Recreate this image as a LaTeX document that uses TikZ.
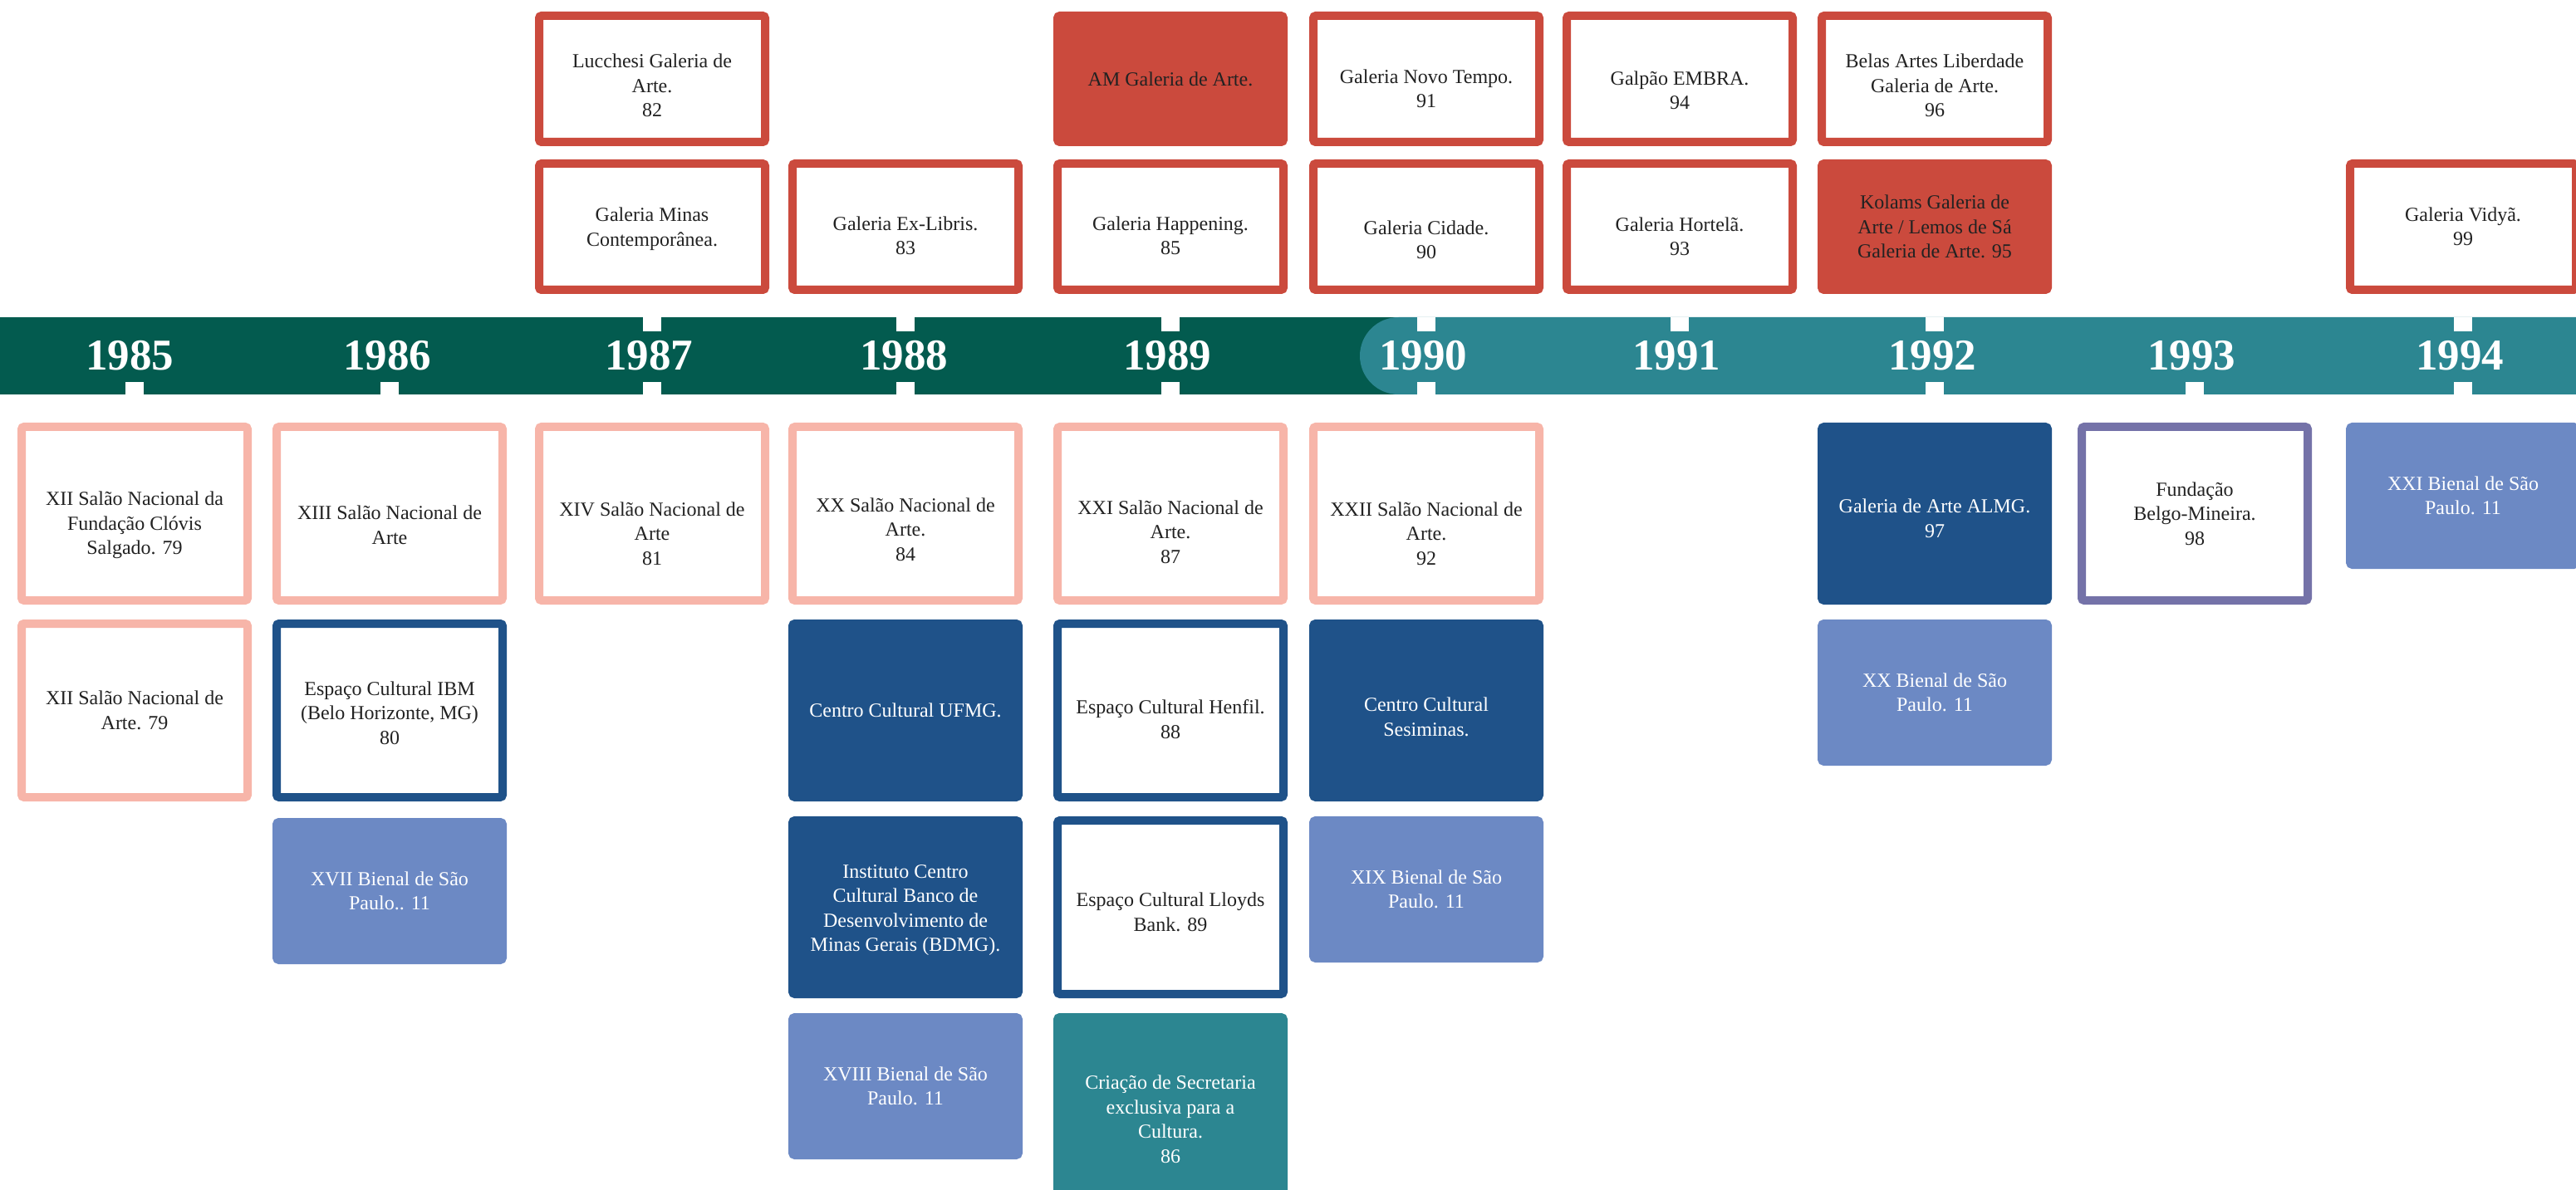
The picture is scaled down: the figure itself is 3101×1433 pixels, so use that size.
\documentclass[tikz,border=0pt]{standalone}
\usepackage{fontspec}
\setmainfont{Liberation Serif}
\usetikzlibrary{positioning}

\definecolor{bandgreen}{HTML}{035B4F}
\definecolor{bandteal}{HTML}{2C8691}
\definecolor{galred}{HTML}{CB4A3D}
\definecolor{salaopink}{HTML}{F7B5A9}
\definecolor{centronavy}{HTML}{1F5289}
\definecolor{bienalblue}{HTML}{6C89C4}
\definecolor{fundviolet}{HTML}{7472A8}
\definecolor{ink}{HTML}{222222}

\newcommand{\textdrop}[1]{\rule{0pt}{\dimexpr8.3pt+2\dimexpr#1\relax\relax}}

\begin{document}
\begin{tikzpicture}
[x=0.5pt,y=-0.5pt,
box/.style={rectangle,rounded corners=1.5pt,line width=5pt,minimum width=136pt,inner sep=2pt,align=center,font=\fontsize{12}{14.75}\selectfont},
toprow/.style={box,minimum height=76pt},
lowrow/.style={box,minimum height=104.5pt},
bienal/.style={box,minimum height=83pt,draw=bienalblue,fill=bienalblue,text=white},
hollow/.style={draw=#1,fill=white,text=ink},
filled/.style={draw=#1,fill=#1,text=white},
notch/.style={fill=white,minimum width=11pt,inner sep=0pt},
year/.style={text=white,font=\fontsize{26.5}{30}\selectfont\bfseries},
node distance=9pt]
\useasboundingbox (0,0) rectangle (3101,1433);
\clip (0,0) rectangle (3101,1433);

\foreach \yr/\x in {1985/162,1986/469,1987/785,1988/1090,1989/1409,1990/1717,1991/2022,1992/2329,1993/2642,1994/2965}{
  \coordinate (t\yr) at (\x,382);
  \coordinate (b\yr) at (\x,475);
}

\fill[bandgreen] (0,382) rectangle (1700,475);
\fill[bandteal,rounded corners=23.25pt] (1637,382) rectangle (3200,475);
\foreach \yr in {1987,1988,1989,1990,1991,1992,1994}
  \node[notch,minimum height=8.5pt,anchor=north] (nt\yr) at (t\yr) {};
\foreach \yr in {1985,1986,1987,1988,1989,1990,1992,1993,1994}
  \node[notch,minimum height=7.5pt,anchor=south] (nb\yr) at (b\yr) {};
\foreach \yr/\x in {1985/156,1986/466,1987/781,1988/1088,1989/1405,1990/1713,1991/2018,1992/2326,1993/2638,1994/2961}
  \node[year] (y\yr) at (\x,428) {\yr};

\node[toprow,hollow=galred] (minas) [above=14pt of t1987] {\textdrop{1.5pt}Galeria Minas\\Contemporânea.};
\node[toprow,hollow=galred] (lucchesi) [above=8pt of minas] {\textdrop{4pt}Lucchesi Galeria de\\Arte.\\82};
\node[toprow,hollow=galred] (exlibris) [above=14pt of t1988] {\textdrop{5.5pt}Galeria Ex-Libris.\\83};
\node[toprow,hollow=galred] (happening) [above=14pt of t1989] {\textdrop{5.5pt}Galeria Happening.\\85};
\node[toprow,filled=galred,text=ink] (amgaleria) [above=8pt of happening] {AM Galeria de Arte.};
\node[toprow,hollow=galred] (cidade) [above=14pt of t1990] {\textdrop{8pt}Galeria Cidade.\\90};
\node[toprow,hollow=galred] (novotempo) [above=8pt of cidade] {\textdrop{6pt}Galeria Novo Tempo.\\91};
\node[toprow,hollow=galred] (hortela) [above=14pt of t1991] {\textdrop{6pt}Galeria Hortelã.\\93};
\node[toprow,hollow=galred] (embra) [above=8pt of hortela] {\textdrop{7pt}Galpão EMBRA.\\94};
\node[toprow,filled=galred,text=ink] (kolams) [above=14pt of t1992] {Kolams Galeria de\\Arte / Lemos de Sá\\Galeria de Arte. 95};
\node[toprow,hollow=galred] (belasartes) [above=8pt of kolams] {\textdrop{4pt}Belas Artes Liberdade\\Galeria de Arte.\\96};
\node[toprow,hollow=galred] (vidya) [above=14pt of t1994] {Galeria Vidyã.\\99};

\node[lowrow,hollow=salaopink] (salaoxii) [below=17pt of b1985] {\textdrop{7pt}XII Salão Nacional da\\Fundação Clóvis\\Salgado. 79};
\node[lowrow,hollow=salaopink] (salaoxiiarte) [below=of salaoxii] {XII Salão Nacional de\\Arte. 79};
\node[lowrow,hollow=salaopink] (salaoxiii) [below=17pt of b1986] {\textdrop{7pt}XIII Salão Nacional de\\Arte};
\node[lowrow,hollow=centronavy] (ibm) [below=of salaoxiii] {\textdrop{1.5pt}Espaço Cultural IBM\\(Belo Horizonte, MG)\\80};
\node[bienal] (bienalxvii) [below=10pt of ibm] {XVII Bienal de São\\Paulo.. 11};
\node[lowrow,hollow=salaopink] (salaoxiv) [below=17pt of b1987] {\textdrop{12pt}XIV Salão Nacional de\\Arte\\81};
\node[lowrow,hollow=salaopink] (salaoxx) [below=17pt of b1988] {\textdrop{9.5pt}XX Salão Nacional de\\Arte.\\84};
\node[lowrow,filled=centronavy] (ufmg) [below=of salaoxx] {Centro Cultural UFMG.};
\node[lowrow,filled=centronavy] (bdmg) [below=of ufmg] {\textdrop{1.5pt}Instituto Centro\\Cultural Banco de\\Desenvolvimento de\\Minas Gerais (BDMG).};
\node[bienal] (bienalxviii) [below=of bdmg] {XVIII Bienal de São\\Paulo. 11};
\node[lowrow,hollow=salaopink] (salaoxxi) [below=17pt of b1989] {\textdrop{11pt}XXI Salão Nacional de\\Arte.\\87};
\node[lowrow,hollow=centronavy] (henfil) [below=of salaoxxi] {\textdrop{5.5pt}Espaço Cultural Henfil.\\88};
\node[lowrow,hollow=centronavy] (lloyds) [below=of henfil] {\textdrop{3pt}Espaço Cultural Lloyds\\Bank. 89};
\node[lowrow,filled=bandteal,minimum height=123pt] (secretaria) [below=of lloyds] {Criação de Secretaria\\exclusiva para a\\Cultura.\\86};
\node[lowrow,hollow=salaopink] (salaoxxii) [below=17pt of b1990] {\textdrop{12pt}XXII Salão Nacional de\\Arte.\\92};
\node[lowrow,filled=centronavy] (sesiminas) [below=of salaoxxii] {\textdrop{4pt}Centro Cultural\\Sesiminas.};
\node[bienal] (bienalxix) [below=of sesiminas] {XIX Bienal de São\\Paulo. 11};
\node[lowrow,filled=centronavy] (almg) [below=17pt of b1992] {\textdrop{3pt}Galeria de Arte ALMG.\\97};
\node[bienal] (bienalxx) [below=of almg] {XX Bienal de São\\Paulo. 11};
\node[lowrow,hollow=fundviolet] (belgo) [below=17pt of b1993] {Fundação\\Belgo-Mineira.\\98};
\node[bienal] (bienalxxi) [below=17pt of b1994] {XXI Bienal de São\\Paulo. 11};
\end{tikzpicture}
\end{document}
